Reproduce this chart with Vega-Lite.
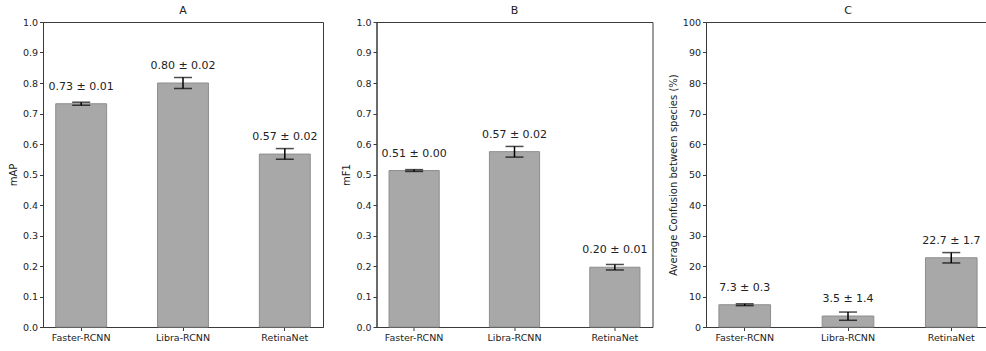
{
  "$schema": "https://vega.github.io/schema/vega-lite/v6.json",
  "background": "white",
  "padding": {"left": 7, "top": 4, "right": 0, "bottom": 0},
  "config": {
    "font": "DejaVu Sans",
    "view": {"stroke": "#3a3a3a", "strokeWidth": 1},
    "concat": {"spacing": 53.5},
    "axis": {
      "labelFont": "DejaVu Sans", "labelFontSize": 9.5, "labelColor": "#222",
      "titleFont": "DejaVu Sans", "titleFontSize": 10, "titleFontWeight": "normal", "titleColor": "#222",
      "domainColor": "#3a3a3a", "tickColor": "#3a3a3a", "tickSize": 3.5, "labelPadding": 2,
      "grid": false, "zindex": 1, "labelOverlap": false
    },
    "title": {"font": "DejaVu Sans", "fontSize": 11, "fontWeight": "normal", "color": "#222", "offset": 0, "dy": 3}
  },
  "bounds": "flush",
  "datasets": {
    "A": [
      {"model": "Faster-RCNN", "mean": 0.732, "lo": 0.727, "hi": 0.737, "label": "0.73 ± 0.01"},
      {"model": "Libra-RCNN", "mean": 0.800, "lo": 0.782, "hi": 0.818, "label": "0.80 ± 0.02"},
      {"model": "RetinaNet", "mean": 0.567, "lo": 0.550, "hi": 0.585, "label": "0.57 ± 0.02"}
    ],
    "B": [
      {"model": "Faster-RCNN", "mean": 0.513, "lo": 0.510, "hi": 0.516, "label": "0.51 ± 0.00"},
      {"model": "Libra-RCNN", "mean": 0.575, "lo": 0.557, "hi": 0.592, "label": "0.57 ± 0.02"},
      {"model": "RetinaNet", "mean": 0.196, "lo": 0.187, "hi": 0.205, "label": "0.20 ± 0.01"}
    ],
    "C": [
      {"model": "Faster-RCNN", "mean": 7.3, "lo": 7.0, "hi": 7.6, "label": "7.3 ± 0.3"},
      {"model": "Libra-RCNN", "mean": 3.6, "lo": 2.2, "hi": 4.9, "label": "3.5 ± 1.4"},
      {"model": "RetinaNet", "mean": 22.7, "lo": 21.0, "hi": 24.4, "label": "22.7 ± 1.7"}
    ]
  },
  "hconcat": [
    {
      "title": "A",
      "width": 280, "height": 305,
      "data": {"name": "A"},
      "encoding": {
        "x": {"field": "model", "type": "nominal", "sort": null, "title": null,
              "scale": {"paddingInner": 0.5, "paddingOuter": 0.125},
              "axis": {"labelAngle": 0}}
      },
      "layer": [
        {"mark": {"type": "bar", "fill": "#a8a8a8", "stroke": "#8e8e8e", "strokeWidth": 1},
         "encoding": {"y": {"field": "mean", "type": "quantitative", "title": "mAP",
           "scale": {"domain": [0, 1], "nice": false},
           "axis": {"values": [0,0.1,0.2,0.3,0.4,0.5,0.6,0.7,0.8,0.9,1.0], "format": ".1f"}}}},
        {"mark": {"type": "rule", "color": "black", "strokeWidth": 1.5},
         "encoding": {"y": {"field": "lo", "type": "quantitative", "title": "mAP",
           "axis": {"values": [0,0.1,0.2,0.3,0.4,0.5,0.6,0.7,0.8,0.9,1.0], "format": ".1f"}}, "y2": {"field": "hi"}}},
        {"mark": {"type": "tick", "color": "black", "size": 18, "thickness": 1.5},
         "encoding": {"y": {"field": "lo", "type": "quantitative", "title": "mAP",
           "axis": {"values": [0,0.1,0.2,0.3,0.4,0.5,0.6,0.7,0.8,0.9,1.0], "format": ".1f"}}}},
        {"mark": {"type": "tick", "color": "black", "size": 18, "thickness": 1.5},
         "encoding": {"y": {"field": "hi", "type": "quantitative", "title": "mAP",
           "axis": {"values": [0,0.1,0.2,0.3,0.4,0.5,0.6,0.7,0.8,0.9,1.0], "format": ".1f"}}}},
        {"mark": {"type": "text", "dy": -17, "baseline": "middle", "fontSize": 11, "color": "#222"},
         "encoding": {"y": {"field": "mean", "type": "quantitative", "title": "mAP",
           "axis": {"values": [0,0.1,0.2,0.3,0.4,0.5,0.6,0.7,0.8,0.9,1.0], "format": ".1f"}}, "text": {"field": "label"}}}
      ]
    },
    {
      "title": "B",
      "width": 276, "height": 305,
      "data": {"name": "B"},
      "encoding": {
        "x": {"field": "model", "type": "nominal", "sort": null, "title": null,
              "scale": {"paddingInner": 0.5, "paddingOuter": 0.125},
              "axis": {"labelAngle": 0}}
      },
      "layer": [
        {"mark": {"type": "bar", "fill": "#a8a8a8", "stroke": "#8e8e8e", "strokeWidth": 1},
         "encoding": {"y": {"field": "mean", "type": "quantitative", "title": "mF1",
           "scale": {"domain": [0, 1], "nice": false},
           "axis": {"values": [0,0.1,0.2,0.3,0.4,0.5,0.6,0.7,0.8,0.9,1.0], "format": ".1f"}}}},
        {"mark": {"type": "rule", "color": "black", "strokeWidth": 1.5},
         "encoding": {"y": {"field": "lo", "type": "quantitative", "title": "mF1",
           "axis": {"values": [0,0.1,0.2,0.3,0.4,0.5,0.6,0.7,0.8,0.9,1.0], "format": ".1f"}}, "y2": {"field": "hi"}}},
        {"mark": {"type": "tick", "color": "black", "size": 18, "thickness": 1.5},
         "encoding": {"y": {"field": "lo", "type": "quantitative", "title": "mF1",
           "axis": {"values": [0,0.1,0.2,0.3,0.4,0.5,0.6,0.7,0.8,0.9,1.0], "format": ".1f"}}}},
        {"mark": {"type": "tick", "color": "black", "size": 18, "thickness": 1.5},
         "encoding": {"y": {"field": "hi", "type": "quantitative", "title": "mF1",
           "axis": {"values": [0,0.1,0.2,0.3,0.4,0.5,0.6,0.7,0.8,0.9,1.0], "format": ".1f"}}}},
        {"mark": {"type": "text", "dy": -17, "baseline": "middle", "fontSize": 11, "color": "#222"},
         "encoding": {"y": {"field": "mean", "type": "quantitative", "title": "mF1",
           "axis": {"values": [0,0.1,0.2,0.3,0.4,0.5,0.6,0.7,0.8,0.9,1.0], "format": ".1f"}}, "text": {"field": "label"}}}
      ]
    },
    {
      "title": "C",
      "width": 284, "height": 305,
      "data": {"name": "C"},
      "encoding": {
        "x": {"field": "model", "type": "nominal", "sort": null, "title": null,
              "scale": {"paddingInner": 0.5, "paddingOuter": 0.125},
              "axis": {"labelAngle": 0}}
      },
      "layer": [
        {"mark": {"type": "bar", "fill": "#a8a8a8", "stroke": "#8e8e8e", "strokeWidth": 1},
         "encoding": {"y": {"field": "mean", "type": "quantitative", "title": "Average Confusion between species (%)",
           "scale": {"domain": [0, 100], "nice": false},
           "axis": {"values": [0,10,20,30,40,50,60,70,80,90,100], "format": "d"}}}},
        {"mark": {"type": "rule", "color": "black", "strokeWidth": 1.5},
         "encoding": {"y": {"field": "lo", "type": "quantitative", "title": "Average Confusion between species (%)",
           "axis": {"values": [0,10,20,30,40,50,60,70,80,90,100], "format": "d"}}, "y2": {"field": "hi"}}},
        {"mark": {"type": "tick", "color": "black", "size": 18, "thickness": 1.5},
         "encoding": {"y": {"field": "lo", "type": "quantitative", "title": "Average Confusion between species (%)",
           "axis": {"values": [0,10,20,30,40,50,60,70,80,90,100], "format": "d"}}}},
        {"mark": {"type": "tick", "color": "black", "size": 18, "thickness": 1.5},
         "encoding": {"y": {"field": "hi", "type": "quantitative", "title": "Average Confusion between species (%)",
           "axis": {"values": [0,10,20,30,40,50,60,70,80,90,100], "format": "d"}}}},
        {"mark": {"type": "text", "dy": -17, "baseline": "middle", "fontSize": 11, "color": "#222"},
         "encoding": {"y": {"field": "mean", "type": "quantitative", "title": "Average Confusion between species (%)",
           "axis": {"values": [0,10,20,30,40,50,60,70,80,90,100], "format": "d"}}, "text": {"field": "label"}}}
      ]
    }
  ]
}
